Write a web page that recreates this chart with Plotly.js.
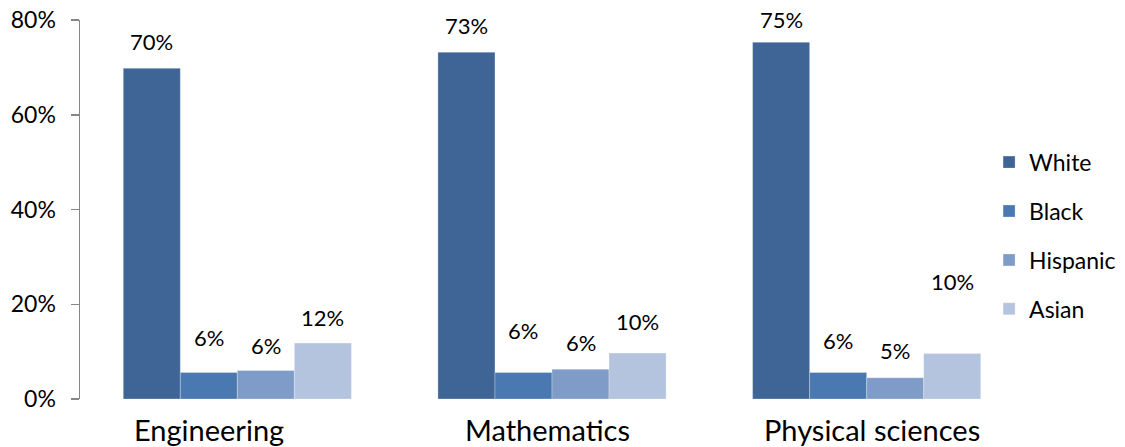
<!DOCTYPE html>
<html>
<head>
<meta charset="utf-8">
<script src="https://cdn.plot.ly/plotly-3.0.1.min.js"></script>
<style>
  html, body { margin: 0; padding: 0; background: #fff; }
  #chart { width: 1125px; height: 447px; }
</style>
</head>
<body>
<div id="chart"></div>
<script>
// ---- data ----
const categories = ["Engineering", "Mathematics", "Physical sciences"];
const seriesNames = ["White", "Black", "Hispanic", "Asian"];
const white    = [69.8, 73.2, 75.3];
const black    = [5.6, 5.6, 5.6];
const hispanic = [6.0, 6.3, 4.5];
const asian    = [11.8, 9.7, 9.6];
const yTickVals = [0, 20, 40, 60, 80];

// ---- styling ----
const colors = ["#3E6595", "#4A78B0", "#7F9CC8", "#B4C3DE"];
// vertical distance (px) from bar top to label centre, per series per category
const labelLift = [
  [27, 27, 23],
  [35, 42, 32],
  [25, 27, 27],
  [26, 32, 72]
];
// horizontal nudge (px) of each category label
const catLabelShift = [-28, -5, 5];
const FONT = "Lato, Carlito, Calibri, sans-serif";

const seriesValues = [white, black, hispanic, asian];

const W = 1125, H = 447;
const margin = {l: 80, r: 101, t: 20, b: 48, pad: 0, autoexpand: false};
const bargap = 0.275;
const plotW = W - margin.l - margin.r;
const catW = plotW / categories.length;
const barW = catW * (1 - bargap) / seriesNames.length;

const traces = seriesNames.map((name, i) => ({
  type: "bar",
  name: name,
  x: categories,
  y: seriesValues[i],
  legendgroup: name,
  marker: {color: colors[i], line: {color: "rgba(255,255,255,0.35)", width: 0.8}},
  hoverinfo: "skip"
}));

const annotations = [];
seriesValues.forEach((vals, i) => {
  vals.forEach((v, j) => {
    annotations.push({
      x: categories[j],
      y: v,
      xref: "x", yref: "y",
      text: Math.round(v) + "%",
      showarrow: false,
      xanchor: "center", yanchor: "middle",
      xshift: (i - (seriesNames.length - 1) / 2) * barW,
      yshift: labelLift[i][j],
      font: {family: FONT, size: 22, color: "#000"}
    });
  });
});
categories.forEach((c, j) => {
  annotations.push({
    x: c, y: 0,
    xref: "x", yref: "paper",
    text: c,
    showarrow: false,
    xanchor: "center", yanchor: "middle",
    xshift: catLabelShift[j],
    yshift: -30,
    font: {family: FONT, size: 29, color: "#000"}
  });
});

const layout = {
  width: W, height: H,
  margin: margin,
  paper_bgcolor: "#fff",
  plot_bgcolor: "#fff",
  barmode: "group",
  bargap: bargap,
  bargroupgap: 0,
  showlegend: true,
  legend: {
    x: 0.963, xanchor: "left",
    y: 0.431, yanchor: "middle",
    traceorder: "grouped",
    tracegroupgap: 16,
    itemwidth: 30,
    font: {family: FONT, size: 23, color: "#000"},
    bgcolor: "rgba(0,0,0,0)"
  },
  xaxis: {
    type: "category",
    range: [-0.5, 2.5],
    showline: false,
    showgrid: false,
    zeroline: false,
    ticks: "",
    showticklabels: false
  },
  yaxis: {
    range: [0, 80],
    tickvals: yTickVals,
    ticktext: yTickVals.map(v => v + "%"),
    showline: true,
    linecolor: "#868686",
    linewidth: 1.5,
    ticks: "outside",
    ticklen: 8,
    tickwidth: 1.5,
    tickcolor: "#868686",
    ticklabelstandoff: 10,
    showgrid: false,
    zeroline: false,
    tickfont: {family: FONT, size: 23, color: "#000"}
  },
  annotations: annotations
};

Plotly.newPlot("chart", traces, layout, {displayModeBar: false, staticPlot: true});
</script>
</body>
</html>
